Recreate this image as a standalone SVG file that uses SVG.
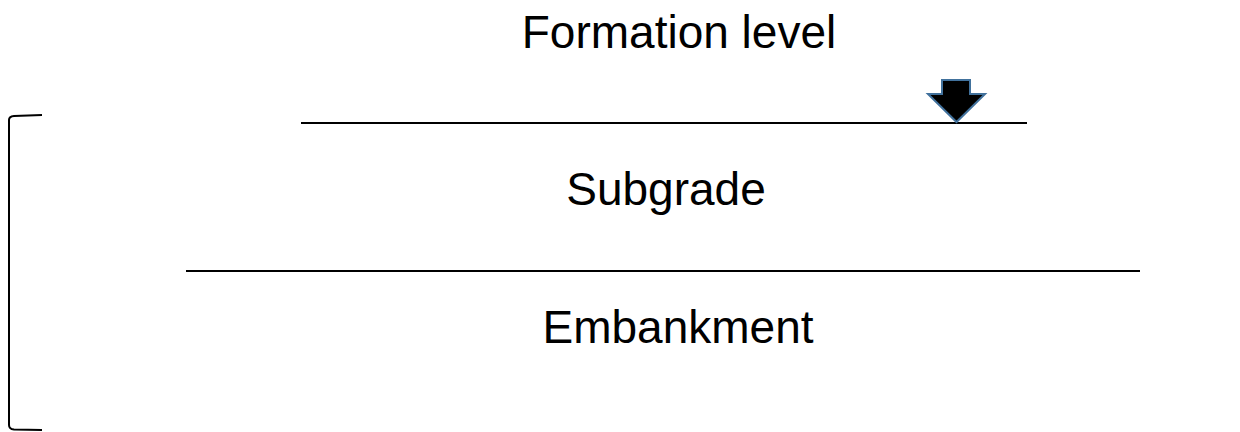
<svg xmlns="http://www.w3.org/2000/svg" width="1240" height="432" viewBox="0 0 1240 432">
<style>
.t{font-family:"Liberation Sans",Arial,sans-serif;font-size:46px;fill:#000;text-anchor:middle}
.ln{stroke:#000;stroke-width:2;fill:none}
</style>
<rect width="1240" height="432" fill="#fff"/>
<g id="formation-level"><text class="t" x="679" y="48">Formation level</text></g>
<g id="line-top"><line class="ln" x1="301" y1="123" x2="1027" y2="123"/></g>
<g id="arrow"><path d="M942,80 H970 V94 H985 L956.5,122 L928,94 H942 Z" fill="#000" stroke="#41719c" stroke-width="2" stroke-linejoin="miter"/></g>
<g id="subgrade"><text class="t" x="666" y="205">Subgrade</text></g>
<g id="line-mid"><line class="ln" x1="186" y1="271" x2="1140" y2="271"/></g>
<g id="embankment"><text class="t" x="678" y="343">Embankment</text></g>
<g id="bracket"><path class="ln" d="M42,115 L14,116 Q9,116.5 9,120 V425 Q9,429 14,429.5 L42,430"/></g>
</svg>
